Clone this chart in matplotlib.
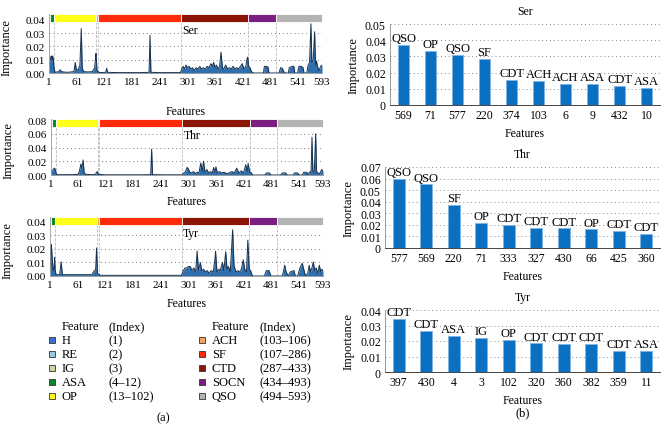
import numpy as np
import matplotlib
matplotlib.use('Agg')
import matplotlib.pyplot as plt
from matplotlib.patches import Rectangle
from matplotlib.transforms import blended_transform_factory

plt.rcParams['font.family'] = ['Liberation Serif', 'DejaVu Serif']
plt.rcParams['font.size'] = 8

# Feature groups (name, first index, last index)
group_names = ['H', 'RE', 'IG', 'ASA', 'OP', 'ACH', 'SF', 'CTD', 'SOCN', 'QSO']
group_start = [1, 2, 3, 4, 13, 103, 107, 287, 434, 494]
group_end = [1, 2, 3, 12, 102, 106, 286, 433, 493, 593]
group_colors = ['#3d6fd1', '#9cc8e0', '#c8d7a2', '#0a8a2a', '#ffff1a',
                '#f5a35f', '#ff2a0a', '#8c1405', '#7a1f80', '#b4b4b4']

# Importance along all features (others ~0)
ser_idx = [1, 3, 5, 6, 8, 9, 10, 12, 14, 22, 25, 28, 40, 55, 58, 60, 64, 68, 71, 73, 76,
           85, 95, 100, 102, 103, 105, 110, 124, 126, 128, 150, 200, 218, 220, 222, 240,
           286, 289, 292, 295, 298, 301, 305, 308, 312, 316, 320, 324, 328, 332, 336, 340,
           344, 348, 352, 355, 358, 361, 364, 368, 371, 374, 377, 380, 384, 388, 392, 396,
           400, 404, 408, 412, 416, 420, 424, 428, 430, 432, 434, 437, 440, 445, 466, 468,
           472, 476, 478, 500, 503, 507, 510, 514, 520, 522, 528, 532, 534, 540, 543, 548,
           552, 554, 560, 563, 566, 569, 571, 574, 577, 579, 581, 584, 587, 590, 593]
ser_val = [0.006, 0.009, 0.012, 0.0128, 0.010, 0.0128, 0.0108, 0.004, 0.0005, 0.001, 0.0025,
           0.001, 0.0005, 0.001, 0.008, 0.003, 0.002, 0.006, 0.0333, 0.004, 0.001,
           0.0008, 0.001, 0.004, 0.012, 0.0148, 0.002, 0.0003, 0.0005, 0.0035, 0.0005,
           0.0003, 0.0003, 0.0005, 0.0283, 0.0005, 0.0003,
           0.0003, 0.003, 0.005, 0.003, 0.006, 0.004, 0.005, 0.003, 0.004, 0.002, 0.004,
           0.003, 0.005, 0.003, 0.004, 0.003, 0.005, 0.004, 0.007, 0.005, 0.008, 0.004,
           0.006, 0.003, 0.005, 0.0157, 0.004, 0.003, 0.006, 0.003, 0.004, 0.003, 0.005,
           0.003, 0.004, 0.003, 0.005, 0.007, 0.003, 0.005, 0.010, 0.012, 0.005, 0.004,
           0.001, 0.0, 0.0, 0.005, 0.005, 0.0045, 0.0, 0.0, 0.004, 0.0035, 0.001, 0.0,
           0.0, 0.004, 0.005, 0.005, 0.0, 0.0, 0.005, 0.005, 0.004, 0.0, 0.0, 0.006,
           0.008, 0.037, 0.008, 0.010, 0.031, 0.006, 0.009, 0.004, 0.002, 0.005, 0.006]

thr_idx = [1, 3, 6, 8, 10, 12, 14, 30, 50, 60, 63, 66, 68, 71, 73, 76, 90, 98, 100, 102,
           104, 120, 200, 218, 220, 222, 250, 286, 290, 294, 297, 300, 303, 307, 311, 315,
           319, 323, 327, 330, 333, 336, 340, 344, 348, 352, 355, 358, 360, 363, 368, 372,
           378, 383, 388, 395, 400, 405, 410, 415, 420, 425, 428, 430, 433, 436, 440, 466,
           470, 476, 480, 500, 505, 512, 515, 528, 531, 538, 541, 548, 551, 558, 560, 565,
           567, 569, 571, 574, 577, 579, 582, 586, 590, 593]
thr_val = [0.005, 0.006, 0.008, 0.010, 0.009, 0.003, 0.0005, 0.0005, 0.0005, 0.001, 0.006,
           0.016, 0.010, 0.022, 0.004, 0.001, 0.0005, 0.001, 0.004, 0.005,
           0.001, 0.0003, 0.0003, 0.0005, 0.0375, 0.0005, 0.0003, 0.0003, 0.003, 0.005,
           0.011, 0.009, 0.004, 0.003, 0.005, 0.002, 0.004, 0.003, 0.0175, 0.005, 0.020,
           0.004, 0.008, 0.003, 0.005, 0.003, 0.011, 0.004, 0.012, 0.003, 0.005, 0.003,
           0.004, 0.002, 0.003, 0.005, 0.003, 0.010, 0.003, 0.006, 0.003, 0.015, 0.005,
           0.017, 0.005, 0.004, 0.0, 0.0, 0.003, 0.003, 0.0, 0.0, 0.003, 0.003, 0.0,
           0.0, 0.003, 0.003, 0.0, 0.0, 0.004, 0.004, 0.0, 0.005, 0.003, 0.055, 0.006,
           0.004, 0.060, 0.005, 0.003, 0.002, 0.008, 0.006]

tyr_idx = [1, 2, 3, 4, 6, 8, 10, 11, 12, 14, 22, 25, 28, 35, 60, 80, 92, 95, 100, 102,
           104, 110, 150, 200, 250, 286, 290, 294, 297, 301, 305, 309, 313, 317, 320, 323,
           327, 330, 334, 338, 342, 346, 350, 355, 359, 360, 363, 367, 370, 375, 378, 382,
           385, 388, 392, 397, 400, 404, 408, 412, 416, 420, 424, 427, 430, 433, 436, 440,
           466, 470, 476, 480, 505, 510, 513, 518, 522, 530, 533, 538, 543, 548, 552, 555,
           560, 563, 566, 569, 572, 575, 578, 582, 585, 588, 590, 593]
tyr_val = [0.005, 0.008, 0.022, 0.0232, 0.012, 0.004, 0.006, 0.0137, 0.005, 0.001, 0.001,
           0.0105, 0.001, 0.001, 0.001, 0.001, 0.001, 0.003, 0.005, 0.0208,
           0.002, 0.0005, 0.0005, 0.0005, 0.0005, 0.0005, 0.004, 0.006, 0.006, 0.007,
           0.007, 0.004, 0.006, 0.003, 0.0185, 0.004, 0.010, 0.004, 0.005, 0.003, 0.004,
           0.002, 0.004, 0.003, 0.0137, 0.0183, 0.003, 0.005, 0.004, 0.010, 0.004, 0.018,
           0.005, 0.007, 0.003, 0.0343, 0.008, 0.003, 0.004, 0.003, 0.005, 0.012, 0.004,
           0.003, 0.0265, 0.005, 0.004, 0.0, 0.0, 0.004, 0.004, 0.0, 0.0, 0.008, 0.003,
           0.0, 0.003, 0.004, 0.0, 0.0, 0.006, 0.0095, 0.004, 0.0, 0.002, 0.008, 0.003,
           0.006, 0.0105, 0.004, 0.006, 0.002, 0.008, 0.003, 0.005, 0.004]

# Top-10 features
ser_top = ['569', '71', '577', '220', '374', '103', '6', '9', '432', '10']
ser_top_val = [0.037, 0.0333, 0.031, 0.0283, 0.0157, 0.0148, 0.0128, 0.0128, 0.012, 0.0108]
ser_top_grp = ['QSO', 'OP', 'QSO', 'SF', 'CDT', 'ACH', 'ACH', 'ASA', 'CDT', 'ASA']

thr_top = ['577', '569', '220', '71', '333', '327', '430', '66', '425', '360']
thr_top_val = [0.060, 0.055, 0.0375, 0.022, 0.020, 0.0175, 0.017, 0.016, 0.015, 0.012]
thr_top_grp = ['QSO', 'QSO', 'SF', 'OP', 'CDT', 'CDT', 'CDT', 'OP', 'CDT', 'CDT']

tyr_top = ['397', '430', '4', '3', '102', '320', '360', '382', '359', '11']
tyr_top_val = [0.0343, 0.0265, 0.0232, 0.022, 0.0208, 0.0185, 0.0183, 0.018, 0.0137, 0.0137]
tyr_top_grp = ['CDT', 'CDT', 'ASA', 'IG', 'OP', 'CDT', 'CDT', 'CDT', 'CDT', 'ASA']

W, H = 669, 439
fig = plt.figure(figsize=(W / 100, H / 100), dpi=100)


def px_axes(left, top, right, bottom):
    return fig.add_axes([left / W, 1 - bottom / H, (right - left) / W, (bottom - top) / H])


def profile(ax, name, idx, val, ymax, ytop, step, label_gap):
    ax.fill_between(idx, val, 0, color='#2f6fae', lw=0)
    ax.plot(idx, val, color='#17324f', lw=0.7)
    ax.set_xlim(1, 593)
    ax.set_ylim(0, ymax)
    ticks = np.arange(0, ytop + step * 0.5, step)
    ax.set_yticks(ticks)
    ax.set_yticklabels(['%.2f' % t for t in ticks])
    ax.set_xticks([1, 61, 121, 181, 241, 301, 361, 421, 481, 541, 593])
    for t in ticks[1:-1]:
        ax.axhline(t, color='#777777', ls=(0, (1, 3)), lw=0.7, zorder=0)
    for s in group_start[4:]:
        ax.axvline(s - 0.5, color='#bbbbbb', ls='--', lw=0.6, zorder=0)
    tr = blended_transform_factory(ax.transData, ax.transAxes)
    for s, e, c in zip(group_start, group_end, group_colors):
        ax.add_patch(Rectangle((s - 0.5, 0.865), e - s + 1, 0.135, transform=tr,
                               facecolor=c, edgecolor='white', lw=0.6, clip_on=False))
    ax.text(290, 0.83, name, transform=tr, ha='left', va='top', fontsize=8.5)
    ax.tick_params(length=0, pad=3, labelsize=8)
    for sp in ['top', 'right']:
        ax.spines[sp].set_visible(False)
    ax.spines['left'].set_color('#999999')
    ax.spines['bottom'].set_color('#999999')
    ax.spines['left'].set_linewidth(0.6)
    ax.spines['bottom'].set_linewidth(0.6)
    ax.set_ylabel('Importance', fontsize=9)
    ax.yaxis.set_label_coords(-0.135, 0.45)
    ax.set_xlabel('Features', fontsize=8.5)
    ax.xaxis.set_label_coords(0.5, -label_gap)


def topbars(ax, name, feats, vals, grps, ymax):
    x = np.arange(len(feats))
    ax.bar(x, vals, width=0.42, color='#0b6fc2', edgecolor='#7fb4e6', lw=0.6, zorder=2)
    for xi, v, g in zip(x, vals, grps):
        ax.text(xi, v + ymax * 0.01, g, ha='center', va='bottom', fontsize=9)
    ax.set_xlim(-0.5, len(feats) - 0.5)
    ax.set_ylim(0, ymax)
    ticks = np.arange(0, ymax + 0.001, 0.01)
    ax.set_yticks(ticks)
    ax.set_yticklabels(['0'] + ['%.2f' % t for t in ticks[1:]])
    ax.set_xticks(x)
    ax.set_xticklabels(feats)
    for t in ticks[1:]:
        ax.axhline(t, color='#888888', ls=(0, (1, 3)), lw=0.7, zorder=0)
    ax.tick_params(length=0, pad=3, labelsize=8.5)
    for sp in ['top', 'right']:
        ax.spines[sp].set_visible(False)
    ax.spines['left'].set_color('#888888')
    ax.spines['bottom'].set_color('#444444')
    ax.spines['left'].set_linewidth(0.6)
    ax.spines['bottom'].set_linewidth(0.7)
    ax.set_title(name, fontsize=8.5, pad=7)
    ax.set_ylabel('Importance', fontsize=9)
    ax.set_xlabel('Features', fontsize=8.5)


ax1 = px_axes(49, 15, 322, 74)
profile(ax1, 'Ser', ser_idx, ser_val, 0.0443, 0.04, 0.01, 0.55)
ax2 = px_axes(51, 120, 323, 176)
profile(ax2, 'Thr', thr_idx, thr_val, 0.0815, 0.08, 0.02, 0.36)
ax3 = px_axes(50, 218, 323, 277)
profile(ax3, 'Tyr', tyr_idx, tyr_val, 0.0437, 0.04, 0.01, 0.36)

bx1 = px_axes(390, 25, 660, 106)
topbars(bx1, 'Ser', ser_top, ser_top_val, ser_top_grp, 0.05)
bx2 = px_axes(385, 168, 660, 249)
topbars(bx2, 'Thr', thr_top, thr_top_val, thr_top_grp, 0.07)
bx3 = px_axes(385, 311, 660, 373)
topbars(bx3, 'Tyr', tyr_top, tyr_top_val, tyr_top_grp, 0.04)

# Legend of feature groups
legend_index = ['(1)', '(2)', '(3)', '(4–12)', '(13–102)',
                '(103–106)', '(107–286)', '(287–433)', '(434–493)', '(494–593)']
col_x = [(49, 62, 109), (199, 212, 259)]
for c, (sx, nx, ix) in enumerate(col_x):
    fig.text(nx / W, 1 - 327 / H, 'Feature', fontsize=9, va='center')
    fig.text(ix / W, 1 - 327 / H, '(Index)', fontsize=9, va='center')
    for r in range(5):
        k = c * 5 + r
        y = 341 + r * 14
        fig.add_artist(Rectangle((sx / W, 1 - (y + 3) / H), 6 / W, 6 / H,
                                 transform=fig.transFigure, facecolor=group_colors[k],
                                 edgecolor='#333333', lw=0.6))
        fig.text(nx / W, 1 - y / H, group_names[k], fontsize=9, va='center')
        fig.text(ix / W, 1 - y / H, legend_index[k], fontsize=9, va='center')

fig.text(163 / W, 1 - 418 / H, '(a)', fontsize=9, ha='center', va='center')
fig.text(523 / W, 1 - 413 / H, '(b)', fontsize=9, ha='center', va='center')

fig.savefig('out.png', dpi=100)
